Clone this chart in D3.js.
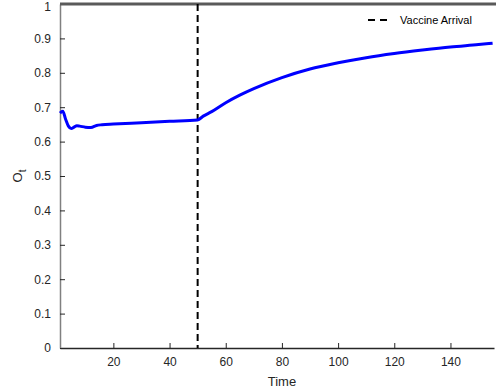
<!DOCTYPE html>
<html>
<head>
<meta charset="utf-8">
<script src="https://cdn.jsdelivr.net/npm/d3@7"></script>
<style>
  body { margin: 0; background: #fff; }
  text { font-family: "Liberation Sans", Arial, sans-serif; }
</style>
</head>
<body>
<svg id="chart" width="496" height="392"></svg>
<script>
// data
const time = [1, 2, 3, 4, 5, 6, 7, 8, 10, 12, 14, 16, 20, 30, 40, 50, 52, 55, 60, 65, 70, 80, 90, 100, 110, 120, 130, 140, 150, 155];
const opinion = [0.683, 0.688, 0.665, 0.645, 0.638, 0.642, 0.646, 0.645, 0.642, 0.641, 0.647, 0.649, 0.651, 0.655, 0.659, 0.663, 0.674, 0.687, 0.713, 0.735, 0.754, 0.786, 0.811, 0.829, 0.844, 0.856, 0.866, 0.875, 0.882, 0.886];
const vaccineTime = 50;
const upperBound = 1;
const xTicks = [20, 40, 60, 80, 100, 120, 140];
const yTicks = [0, 0.1, 0.2, 0.3, 0.4, 0.5, 0.6, 0.7, 0.8, 0.9, 1];

const margin = {left: 60, right: 2, top: 4, bottom: 44};
const width = 496 - margin.left - margin.right;
const height = 392 - margin.top - margin.bottom;

const svg = d3.select("#chart")
  .append("g")
  .attr("transform", "translate(" + margin.left + "," + margin.top + ")");

const x = d3.scaleLinear().domain([1, 155.5]).range([0, width]);
const y = d3.scaleLinear().domain([0, 1]).range([height, 0]);

// x axis, ticks pointing inward like matlab
const gx = svg.append("g")
  .attr("transform", "translate(0," + height + ")")
  .call(d3.axisBottom(x).tickValues(xTicks).tickSize(-5).tickPadding(9).tickSizeOuter(0));
gx.select(".domain").attr("stroke", "#262626").attr("stroke-width", 1.5);
gx.selectAll(".tick line").attr("stroke", "#262626");
gx.selectAll("text").attr("font-size", 12).attr("fill", "#262626");

const gy = svg.append("g")
  .call(d3.axisLeft(y).tickValues(yTicks).tickFormat(d3.format("")).tickSize(-5).tickPadding(9).tickSizeOuter(0));
gy.select(".domain").attr("stroke", "#808080").attr("stroke-width", 1.5);
gy.selectAll(".tick line").attr("stroke", "#262626");
gy.selectAll("text").attr("font-size", 12).attr("fill", "#262626");
// keep the top label inside the picture
gy.selectAll(".tick text").filter(d => d === 1).attr("dy", "0.5em");

// upper bound line
svg.append("line")
  .attr("x1", 0).attr("x2", width + margin.right)
  .attr("y1", y(upperBound)).attr("y2", y(upperBound))
  .attr("stroke", "#5a5a5a").attr("stroke-width", 3);

// vaccine arrival
svg.append("line")
  .attr("x1", x(vaccineTime)).attr("x2", x(vaccineTime))
  .attr("y1", y(1)).attr("y2", y(0))
  .attr("stroke", "#000").attr("stroke-width", 2)
  .attr("stroke-dasharray", "7,4");

// the curve
const line = d3.line()
  .x((d, i) => x(time[i]))
  .y(d => y(d))
  .curve(d3.curveMonotoneX);

svg.append("path")
  .datum(opinion)
  .attr("d", line)
  .attr("fill", "none")
  .attr("stroke", "#0000ff")
  .attr("stroke-width", 3)
  .attr("stroke-linejoin", "round");

// legend
const lg = svg.append("g").attr("transform", "translate(" + (368 - margin.left) + "," + (20 - margin.top) + ")");
lg.append("line")
  .attr("x1", 0).attr("x2", 20).attr("y1", 0).attr("y2", 0)
  .attr("stroke", "#000").attr("stroke-width", 2).attr("stroke-dasharray", "7,5");
lg.append("text")
  .attr("x", 32).attr("y", 4)
  .attr("font-size", 11).attr("fill", "#000")
  .text("Vaccine Arrival");

// axis labels
svg.append("text")
  .attr("x", x(80)).attr("y", height + 38)
  .attr("text-anchor", "middle")
  .attr("font-size", 13).attr("fill", "#262626")
  .text("Time");

const yl = svg.append("text")
  .attr("transform", "translate(" + (22 - margin.left) + "," + (y(0.5)) + ") rotate(-90)")
  .attr("text-anchor", "middle")
  .attr("font-size", 13).attr("fill", "#262626");
yl.append("tspan").text("O");
yl.append("tspan").attr("dy", 4).attr("font-size", 10).text("t");
</script>
</body>
</html>
